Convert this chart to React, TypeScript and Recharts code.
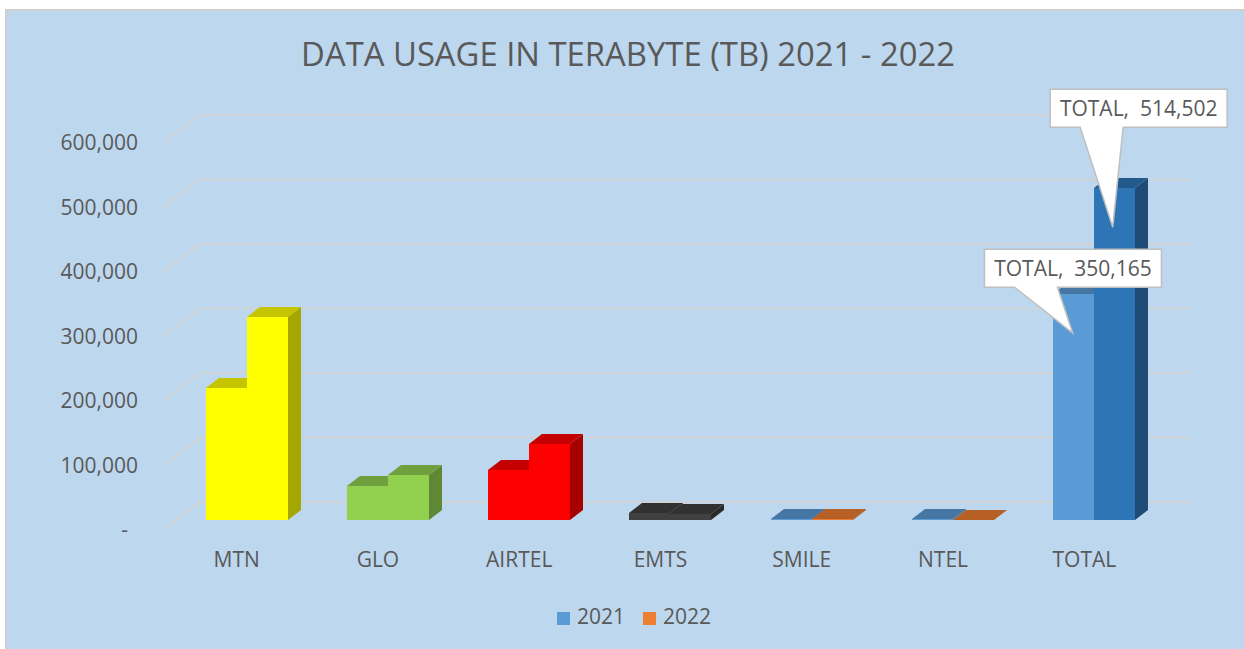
import { BarChart, Bar, XAxis, YAxis, CartesianGrid, Cell, Legend, ReferenceDot } from 'recharts';

const categories = ['MTN', 'GLO', 'AIRTEL', 'EMTS', 'SMILE', 'NTEL', 'TOTAL'];
const usage2021 = [205000, 53000, 77500, 11000, 2000, 1665, 350165];
const usage2022 = [315000, 70000, 118000, 10000, 900, 602, 514502];
const yTicks = [0, 100000, 200000, 300000, 400000, 500000, 600000];
const colors2021 = ['#FFFF00', '#92D050', '#FF0000', '#404040', '#5B9BD5', '#5B9BD5', '#5B9BD5'];
const colors2022 = ['#FFFF00', '#92D050', '#FF0000', '#404040', '#ED7D31', '#ED7D31', '#2E75B6'];

const rows = categories.map((name, i) => ({ name, y2021: usage2021[i], y2022: usage2022[i] }));

const FONT = '"Open Sans", sans-serif';
const TEXT = '#595959';
const GRID = '#D0D3D6';

// fake 3D: how far the bars sit behind the axis plane, and how deep they are
const SHIFT_X = 9.5;
const SHIFT_Y = 9;
const DEPTH_X = 13;
const DEPTH_Y = 10;

function darken(hex: string, f: number) {
  const n = parseInt(hex.slice(1), 16);
  const c = [(n >> 16) & 255, (n >> 8) & 255, n & 255].map((v) => Math.round(v * f));
  return `rgb(${c[0]},${c[1]},${c[2]})`;
}

function Bar3D(props: any) {
  const { x, y, width, height, fill } = props;
  // rounded so neighbouring bars of one colour show no seam
  const l = Math.round(x + SHIFT_X);
  const r = Math.round(x + SHIFT_X + width);
  const t = Math.round(y - SHIFT_Y);
  const b = Math.round(y - SHIFT_Y + height);
  return (
    <g>
      <polygon
        points={`${r},${t} ${r + DEPTH_X},${t - DEPTH_Y} ${r + DEPTH_X},${b - DEPTH_Y} ${r},${b}`}
        fill={darken(fill, 0.65)}
      />
      <polygon
        points={`${l},${t} ${l + DEPTH_X},${t - DEPTH_Y} ${r + DEPTH_X},${t - DEPTH_Y} ${r},${t}`}
        fill={darken(fill, 0.77)}
      />
      <rect x={l} y={t} width={r - l} height={b - t} fill={fill} />
    </g>
  );
}

function GridLine(props: any) {
  const { x1, y1, x2 } = props;
  return (
    <polyline
      key={`grid-${y1}`}
      points={`${x1 - 2},${y1} ${x1 + 34},${y1 - 27} ${x2 + 35},${y1 - 27}`}
      fill="none"
      stroke={GRID}
      strokeWidth={2}
    />
  );
}

function ValueTick(props: any) {
  const { x, y, payload } = props;
  const zero = payload.value === 0;
  return (
    <text
      x={zero ? x - 10 : x}
      y={y + 1}
      dy="0.35em"
      textAnchor="end"
      fontFamily={FONT}
      fontSize={21}
      fill={TEXT}
    >
      {zero ? '-' : payload.value.toLocaleString('en-US')}
    </text>
  );
}

// callout box with a wedge pointing at the value
function Callout(props: any) {
  const { cx, cy, label, tipX, boxX, boxY, baseA, baseB } = props;
  const w = 177;
  const h = 38;
  const tx = cx + tipX;
  const ty = cy + 30;
  const bx = tx + boxX;
  const by = ty + boxY;
  const points = [
    [bx, by],
    [bx + w, by],
    [bx + w, by + h],
    [bx + baseB, by + h],
    [tx, ty],
    [bx + baseA, by + h],
    [bx, by + h],
  ]
    .map((p) => p.join(','))
    .join(' ');
  return (
    <g>
      <polygon points={points} fill="#FFFFFF" stroke="#BFBFBF" strokeWidth={1.5} />
      <text
        x={bx + w / 2}
        y={by + h / 2 + 1}
        dy="0.35em"
        textAnchor="middle"
        fontFamily={FONT}
        fontSize={21}
        fill={TEXT}
        style={{ whiteSpace: 'pre' }}
      >
        {label}
      </text>
    </g>
  );
}

const last = categories.length - 1;

export default function App() {
  return (
    <div style={{ position: 'absolute', left: 0, top: 0, width: 1244, height: 649, background: '#fff', overflow: 'hidden' }}>
      <div
        style={{
          position: 'absolute',
          left: 5,
          top: 9,
          right: 0,
          bottom: 0,
          background: '#BDD7EE',
          borderLeft: '2px solid #D0D0D0',
          borderTop: '2px solid #D0D0D0',
        }}
      />
      <div style={{ position: 'absolute', left: 0, top: 0 }}>
        <BarChart
          width={1244}
          height={649}
          data={rows}
          margin={{ top: 142, right: 89, bottom: 62, left: 110 }}
          barCategoryGap={30}
          barGap={0}
        >
          <text x={628} y={55} dy="0.35em" textAnchor="middle" fontFamily={FONT} fontSize={32.8} fill={TEXT}>
            DATA USAGE IN TERABYTE (TB) 2021 - 2022
          </text>
          <CartesianGrid vertical={false} horizontal={(p: any) => <GridLine {...p} />} />
          <XAxis
            dataKey="name"
            axisLine={false}
            tickLine={false}
            interval={0}
            tickMargin={17}
            tick={{ fontFamily: FONT, fontSize: 21, fill: TEXT }}
          />
          <YAxis
            domain={[0, 600000]}
            ticks={yTicks}
            axisLine={false}
            tickLine={false}
            width={56}
            tickSize={0}
            tickMargin={28}
            tick={(p: any) => <ValueTick {...p} />}
            orientation="left"
          />
          <Bar dataKey="y2021" name="2021" fill="#5B9BD5" isAnimationActive={false} shape={(p: any) => <Bar3D {...p} />}>
            {colors2021.map((c, i) => (
              <Cell key={i} fill={c} />
            ))}
          </Bar>
          <Bar dataKey="y2022" name="2022" fill="#ED7D31" isAnimationActive={false} shape={(p: any) => <Bar3D {...p} />}>
            {colors2022.map((c, i) => (
              <Cell key={i} fill={c} />
            ))}
          </Bar>
          <ReferenceDot
            x={categories[last]}
            y={usage2022[last]}
            ifOverflow="visible"
            shape={(p: any) => (
              <Callout
                {...p}
                tipX={28.4}
                boxX={-62.6}
                boxY={-138}
                baseA={30}
                baseB={73}
                label={`${categories[last]},  ${usage2022[last].toLocaleString('en-US')}`}
              />
            )}
          />
          <ReferenceDot
            x={categories[last]}
            y={usage2021[last]}
            ifOverflow="visible"
            shape={(p: any) => (
              <Callout
                {...p}
                tipX={-11.6}
                boxX={-88.3}
                boxY={-84}
                baseA={30}
                baseB={73}
                label={`${categories[last]},  ${usage2021[last].toLocaleString('en-US')}`}
              />
            )}
          />
          <Legend
            verticalAlign="bottom"
            align="center"
            iconType="square"
            iconSize={13}
            wrapperStyle={{ position: 'absolute', left: 0, width: 1286, top: 602, bottom: 'auto', fontFamily: FONT, fontSize: 21 }}
            formatter={(v: string) => <span style={{ color: TEXT, marginLeft: 3, marginRight: 8 }}>{v}</span>}
          />
        </BarChart>
      </div>
    </div>
  );
}
